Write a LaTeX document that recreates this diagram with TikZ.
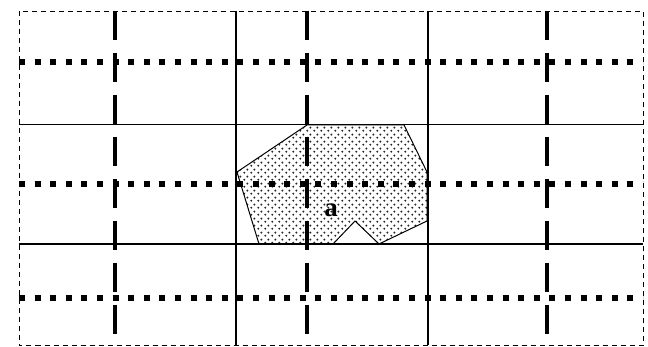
\documentclass[tikz,border=0pt]{standalone}
\usepackage{fontspec}
\setmainfont{Liberation Serif}
\usetikzlibrary{patterns.meta}

\tikzdeclarepattern{
  name=grain,
  type=uncolored,
  bottom left={(-1.5pt,-1.5pt)},
  top right={(5.5pt,5.5pt)},
  tile size={(7pt,7pt)},
  code={
    \fill (0pt,0pt) circle (1.25pt);
    \fill (3.5pt,3.5pt) circle (1.25pt);
  }
}

\begin{document}
\begin{tikzpicture}[x=1pt, y=-1pt,
    border/.style={draw=black, line width=0.8pt, dash pattern=on 5pt off 4pt},
    cell/.style={draw=black, line width=1.4pt},
    coarse/.style={draw=black, line width=3.2pt, dash pattern=on 29pt off 13pt},
    fine/.style={draw=black, line width=6pt, dash pattern=on 6pt off 9.6pt},
    region/.style={draw=black, line width=1pt, pattern=grain, pattern color=black!85},
    regionlabel/.style={inner sep=0pt, font=\fontsize{27}{30}\selectfont\bfseries}
]
\useasboundingbox (0,0) rectangle (648,347);

% shaded region
\draw[region] (307,125) -- (404,125) -- (427,172) -- (427,221) -- (379,244)
  -- (355,221) -- (333,244) -- (259,244) -- (237,172) -- cycle;
\node[regionlabel] (a) at (331,210) {a};

% coarse cells
\draw[cell] (236,11) -- (236,345.5);
\draw[cell] (428,11) -- (428,345.5);
\draw[cell] (19,124.5) -- (643,124.5);
\draw[cell] (19,244) -- (643,244);

% fine subdivision
\foreach \x in {115,307,547}
  \draw[coarse] (\x,11) -- (\x,345.5);
\foreach \y in {62,184,298.5}
  \draw[fine] (19,\y) -- (643,\y);

% outer frame
\draw[border] (19,11) rectangle (643,345.5);
\end{tikzpicture}
\end{document}
